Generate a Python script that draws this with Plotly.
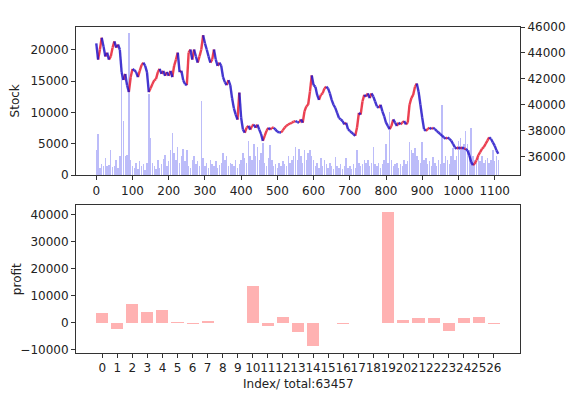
import plotly.graph_objects as go

# ---------------- data ----------------
# top panel: sampled every 5 index steps (0..1110)
idx = list(range(0, 1115, 5))

price = [
    44740, 43480, 44260, 45175, 44500, 43725, 44015, 43480, 43725, 44400,
    44885, 44400, 44645, 44260, 42500, 41900, 42370, 41500, 40970, 42130,
    42760, 42660, 42515, 42130, 42610, 43050, 43240, 43000, 42515, 40970,
    41260, 41595, 41885, 41985, 42515, 42760, 42370, 42610, 42225, 42515,
    42225, 42610, 42130, 43000, 43480, 44015, 42515, 42610, 41885, 41595,
    41500, 44015, 44260, 43480, 44260, 43725, 43240, 43725, 44260, 45370,
    44740, 44260, 43725, 43240, 43480, 44260, 43480, 43000, 43240, 43000,
    42130, 41740, 41500, 41885, 41500, 40485, 39710, 39225, 38840, 40920,
    38985, 38065, 37825, 38210, 38355, 38065, 38355, 38455, 38210, 38455,
    38065, 37725, 37195, 37580, 37970, 38210, 38065, 38210, 38210, 38065,
    37900, 37850, 37840, 38000, 38220, 38350, 38475, 38520, 38600, 38680,
    38730, 38650, 38600, 38850, 38600, 39485, 39860, 39990, 41000, 42260,
    41500, 41380, 40750, 40370, 40750, 40870, 41250, 41380, 41250, 40870,
    40370, 39990, 39740, 39360, 38980, 38850, 38730, 38470, 38600, 38100,
    37970, 37840, 37720, 37590, 38220, 39360, 39230, 40240, 40750, 40620,
    40870, 40500, 40870, 40620, 40240, 39860, 39740, 39990, 39480, 39100,
    38600, 38350, 38100, 38350, 38850, 38600, 38350, 38600, 38470, 38600,
    38730, 38470, 38600, 39990, 40500, 40750, 41380, 41630, 41000, 39990,
    38980, 38100, 37970, 38100, 38220, 38100, 38220, 38100, 37970, 37840,
    37720, 37590, 37470, 37340, 37470, 37340, 37210, 36960, 36710, 36580,
    36710, 36580, 36710, 36580, 36580, 36460, 36080, 35570, 35320, 35440,
    35700, 36080, 36330, 36580, 36710, 36960, 37210, 37470, 37340, 37080,
    36830, 36460, 36200,
]

stock = [
    4000, 6500, 1200, 1800, 1500, 2800, 1400, 1600, 4000, 1300,
    1500, 2500, 1200, 3000, 16500, 8600, 3000, 3200, 22600, 2500,
    1500, 1200, 2000, 1000, 2200, 1500, 1800, 900, 2000, 13000,
    6000, 2000, 1500, 1000, 2500, 1200, 1800, 2600, 3200, 1500,
    2200, 4000, 6800, 3500, 2500, 4500, 2000, 3000, 4200, 2200,
    4000, 1500, 1200, 2500, 3000, 1800, 2200, 1500, 11800, 2800,
    1500, 2000, 1200, 2500, 1800, 1500, 2200, 1200, 1600, 2000,
    3500, 2500, 3000, 1500, 2000, 1800, 1500, 2500, 1200, 1800,
    2500, 3500, 2800, 2000, 5400, 3000, 2500, 5000, 3000, 4500,
    2500, 3500, 5200, 2000, 1500, 2800, 4800, 2500, 1500, 1800,
    1200, 2000, 1500, 2200, 1800, 1500, 3000, 2000, 2500, 3000,
    4500, 2500, 4200, 3000, 2000, 4000, 2500, 3500, 4000, 3000,
    2500, 1500, 2000, 1200, 2800, 1500, 2500, 1800, 1200, 2000,
    1500, 1000, 2900, 1500, 1200, 1800, 1000, 1500, 2700, 1200,
    1500, 1000, 1800, 1200, 4000, 2000, 1500, 1800, 2400, 2000,
    2400, 1500, 2000, 4500, 1800, 1500, 2000, 1200, 1800, 2500,
    5000, 2000, 10000, 2500, 1500, 1800, 2000, 1200, 1800, 1500,
    2500, 1800, 2200, 5300, 4000, 3500, 4300, 3000, 2500, 2000,
    5300, 2500, 2800, 1800, 2200, 1500, 2900, 2000, 1500, 2400,
    1800, 11250, 2000, 3000, 2500, 1800, 3000, 4300, 2500, 3000,
    5500, 6000, 4500, 5000, 7100, 5000, 4000, 7600, 3000, 2500,
    2000, 2800, 2200, 3000, 2000, 2500, 2800, 2000, 2500, 4000,
    2200, 3000, 2500,
]

# bottom panel
profit_idx = list(range(27))
profit_labels = [str(i) for i in profit_idx]
profit = [3500, -2200, 7000, 4100, 4800, 400, -250, 700, -200, -200,
          13700, -1100, 2300, -3300, -8700, 0, -400, 0, 0, 41000,
          1000, 1700, 1700, -3000, 1700, 2100, -400]

total_label = "Index/ total:63457"

# ---------------- figure ----------------
RED = "rgba(232,30,50,0.85)"
BLUE = "rgba(35,20,200,0.85)"

red_x, red_y, blue_x, blue_y = [], [], [], []
for i in range(len(price) - 1):
    if price[i + 1] >= price[i]:
        red_x += [idx[i], idx[i + 1], None]
        red_y += [price[i], price[i + 1], None]
    else:
        blue_x += [idx[i], idx[i + 1], None]
        blue_y += [price[i], price[i + 1], None]

fig = go.Figure()
fig.add_trace(go.Bar(x=idx, y=stock, width=4, marker=dict(color="rgba(80,80,240,0.38)", line=dict(width=0)),
                     xaxis="x", yaxis="y", showlegend=False))
fig.add_trace(go.Scatter(x=red_x, y=red_y, mode="lines", line=dict(color=RED, width=2.4),
                         xaxis="x", yaxis="y3", showlegend=False))
fig.add_trace(go.Scatter(x=blue_x, y=blue_y, mode="lines", line=dict(color=BLUE, width=2.4),
                         xaxis="x", yaxis="y3", showlegend=False))
fig.add_trace(go.Bar(x=profit_idx, y=profit, width=0.8,
                     marker=dict(color="rgba(255,0,0,0.3)", line=dict(width=0)),
                     xaxis="x2", yaxis="y2", showlegend=False))

font = dict(family="DejaVu Sans", size=12, color="#222")
axcommon = dict(showgrid=False, zeroline=False, showline=True, linecolor="#333", linewidth=1,
                ticks="outside", ticklen=4, tickcolor="#333", tickfont=font,
                tickformat="d", tickangle=0)

top_dom = [0.5452, 1.0]
bot_dom = [0.0, 0.4548]

# the page body adds an 8 px offset at left/top, so the figure is 8 px smaller
fig.update_layout(
    width=570, height=390,
    margin=dict(l=68, r=56, t=13, b=45),
    paper_bgcolor="white", plot_bgcolor="white",
    font=font, bargap=0,
    xaxis=dict(domain=[0, 1], anchor="y", range=[-56, 1170],
               tickvals=list(range(0, 1101, 100)), mirror=True, **axcommon),
    yaxis=dict(domain=top_dom, anchor="x", range=[0, 23600],
               tickvals=[0, 5000, 10000, 15000, 20000], mirror=False, **axcommon),
    yaxis3=dict(overlaying="y", side="right", anchor="x", range=[34535, 46000],
                tickvals=[36000, 38000, 40000, 42000, 44000, 46000], **axcommon),
    xaxis2=dict(domain=[0, 1], anchor="y2", range=[-1.74, 27.74],
                tickvals=profit_idx, ticktext=profit_labels, mirror=True, **axcommon),
    yaxis2=dict(domain=bot_dom, anchor="x2", range=[-11250, 43550],
                tickvals=[-10000, 0, 10000, 20000, 30000, 40000], mirror=True, **axcommon),
    annotations=[
        dict(text="Stock", xref="paper", yref="paper", x=(15 - 76) / 446, y=0.7726,
             textangle=-90, showarrow=False, font=font, xanchor="center", yanchor="middle"),
        dict(text="profit", xref="paper", yref="paper", x=(17 - 76) / 446, y=0.2274,
             textangle=-90, showarrow=False, font=font, xanchor="center", yanchor="middle"),
        dict(text=total_label, xref="paper", yref="paper", x=0.5, y=(353 - 385) / 332,
             showarrow=False, font=font, xanchor="center", yanchor="middle"),
    ],
)

fig.write_html("out.html")
